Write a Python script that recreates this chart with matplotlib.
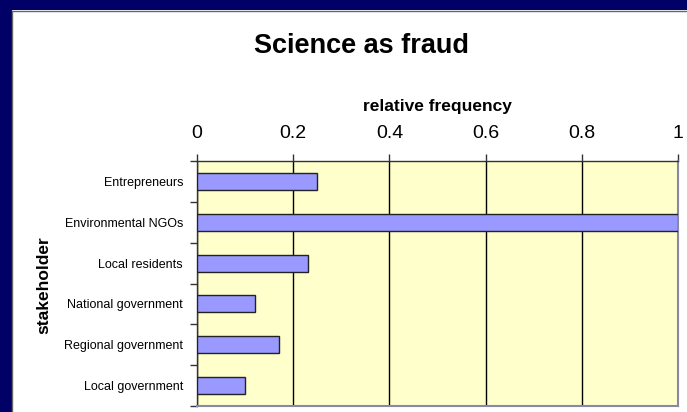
import matplotlib
matplotlib.use('Agg')
import matplotlib.pyplot as plt
from matplotlib.patches import Rectangle
import numpy as np

plt.rcParams['font.family'] = ['Liberation Sans', 'DejaVu Sans']

# Data
stakeholders = ['Entrepreneurs', 'Environmental NGOs', 'Local residents',
                'National government', 'Regional government', 'Local government']
rel_freq = [0.25, 1.0, 0.23, 0.12, 0.17, 0.10]
x_ticks = [0, 0.2, 0.4, 0.6, 0.8, 1]

NAVY = '#000066'
BAR = '#9999FF'
PLOT_BG = '#FFFFCC'

W, H = 687, 412
fig = plt.figure(figsize=(W / 100, H / 100), dpi=100)
fig.patch.set_facecolor('white')

# navy frame along top and left, with grey edge
fig.add_artist(Rectangle((0, 1 - 10 / H), 1, 10 / H, transform=fig.transFigure,
                         facecolor=NAVY, edgecolor='none', zorder=0))
fig.add_artist(Rectangle((0, 0), 12 / W, 1, transform=fig.transFigure,
                         facecolor=NAVY, edgecolor='none', zorder=0))
fig.add_artist(plt.Line2D([12 / W, 1], [1 - 10.5 / H, 1 - 10.5 / H],
                          transform=fig.transFigure, color='#666666', lw=1))
fig.add_artist(plt.Line2D([12.5 / W, 12.5 / W], [0, 1 - 10.5 / H],
                          transform=fig.transFigure, color='#666666', lw=1))

# plot area
left, right, top, bottom = 197, 678, 161, 406
ax = fig.add_axes([left / W, (H - bottom) / H, (right - left) / W, (bottom - top) / H])
ax.set_facecolor(PLOT_BG)

y = np.arange(len(stakeholders))
ax.barh(y, rel_freq, height=0.42, color=BAR, edgecolor='#222222', linewidth=1, zorder=3)

ax.set_xlim(0, 1)
ax.set_ylim(len(stakeholders) - 0.5, -0.5)

ax.xaxis.tick_top()
ax.xaxis.set_label_position('top')
ax.set_xticks(x_ticks)
ax.set_xticklabels(['0', '0.2', '0.4', '0.6', '0.8', '1'], fontsize=14)
ax.tick_params(axis='x', direction='out', length=5, width=1, color='#333333', pad=8.5)
ax.set_xlabel('relative frequency', fontsize=12.5, fontweight='bold', labelpad=10)
ax.grid(axis='x', color='black', linewidth=1, zorder=1)

ax.set_yticks(y)
ax.set_yticklabels(stakeholders, fontsize=9)
ax.set_yticks(np.arange(len(stakeholders) + 1) - 0.5, minor=True)
ax.tick_params(axis='y', which='major', length=0, pad=10)
ax.tick_params(axis='y', which='minor', direction='out', length=5, width=1, color='#333333')

for s in ['left', 'top']:
    ax.spines[s].set_color('#333333')
    ax.spines[s].set_linewidth(1)
for s in ['right', 'bottom']:
    ax.spines[s].set_color('#8888AA')
    ax.spines[s].set_linewidth(1.5)

fig.text(44 / W, 1 - 285 / H, 'stakeholder', rotation=90, ha='center', va='center',
         fontsize=12.5, fontweight='bold')
fig.text(361 / W, 1 - 53 / H, 'Science as fraud', ha='center', va='baseline',
         fontsize=19.5, fontweight='bold')

fig.savefig('out.png', dpi=100)
